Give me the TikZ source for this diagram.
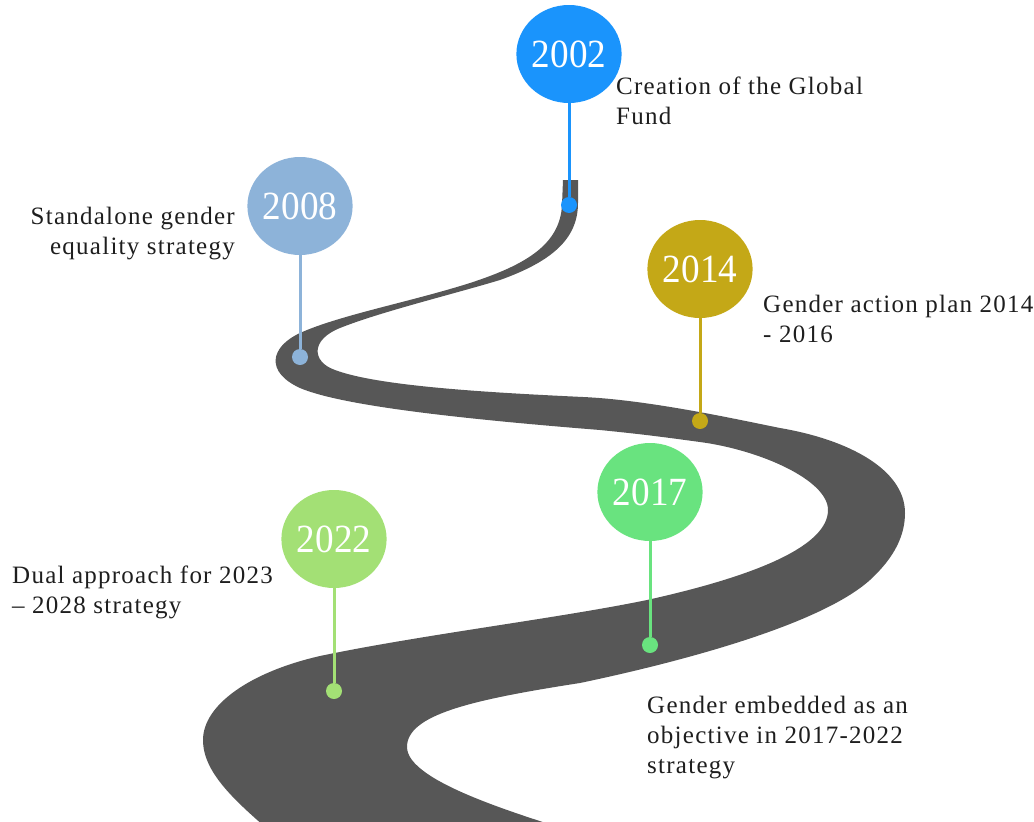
\documentclass[tikz,border=0pt]{standalone}
\usepackage{fontspec}
\usepackage{graphicx}
\setmainfont{Liberation Serif}
\newfontfamily\labelfont[LetterSpace=5]{Liberation Serif}
\usetikzlibrary{shapes.geometric}
\definecolor{road}{HTML}{575757}
\definecolor{c2002}{HTML}{1A94FC}
\definecolor{c2008}{HTML}{8DB3D9}
\definecolor{c2014}{HTML}{C4A817}
\definecolor{c2017}{HTML}{69E37F}
\definecolor{c2022}{HTML}{A3E075}
\definecolor{ink}{HTML}{1E1E1E}
\newcommand\yr[1]{\scalebox{0.93}[1]{#1}}
\begin{document}
\begin{tikzpicture}[x=1pt,y=-1pt,
  yearbubble/.style={ellipse, fill=#1, minimum width=94pt, minimum height=98pt, inner sep=0pt, text=white, font=\fontsize{40}{40}\selectfont},
  pindot/.style={circle, fill=#1, minimum size=16pt, inner sep=0pt},
  stem/.style={draw=#1, line width=3pt},
  desc/.style={font=\labelfont\fontsize{25}{30}\selectfont, text=ink, inner sep=0pt}]
\useasboundingbox (0,0) rectangle (1034,822);
\clip (0,0) rectangle (1034,822);
% road
\fill[road] (563,180) -- (562,205)
  .. controls (560,245) and (525,265) .. (470,283)
  .. controls (410,302) and (340,315) .. (300,333)
  .. controls (270,347) and (265,372) .. (300,388)
  .. controls (340,405) and (450,418) .. (600,430)
  .. controls (650,435) and (670,438) .. (700,442)
  .. controls (760,450) and (828,480) .. (828,510)
  .. controls (828,545) and (760,575) .. (647,600)
  .. controls (560,618) and (420,635) .. (320,656)
  .. controls (250,672) and (203,705) .. (203,740)
  .. controls (203,775) and (240,805) .. (280,840)
  -- (600,840)
  .. controls (520,815) and (407,782) .. (407,747)
  .. controls (407,715) and (470,700) .. (580,683)
  .. controls (680,662) and (820,625) .. (870,580)
  .. controls (895,557) and (905,535) .. (905,513)
  .. controls (905,470) and (850,440) .. (780,428)
  .. controls (740,420) and (650,400) .. (583,397)
  .. controls (500,393) and (380,387) .. (335,370)
  .. controls (312,362) and (310,340) .. (340,328)
  .. controls (380,312) and (450,295) .. (500,280)
  .. controls (550,262) and (578,240) .. (578,203)
  -- (578,180) -- cycle;
% year bubbles
\node[yearbubble=c2002] (y2002) at (569,54) {\yr{2002}};
\node[yearbubble=c2008] (y2008) at (300,206) {\yr{2008}};
\node[yearbubble=c2014] (y2014) at (700,269) {\yr{2014}};
\node[yearbubble=c2017] (y2017) at (650,492) {\yr{2017}};
\node[yearbubble=c2022] (y2022) at (334,539) {\yr{2022}};
% dots
\node[pindot=c2002] (d2002) at (569,205) {};
\node[pindot=c2008] (d2008) at (300,357) {};
\node[pindot=c2014] (d2014) at (700,421) {};
\node[pindot=c2017] (d2017) at (650,645) {};
\node[pindot=c2022] (d2022) at (334,691) {};
% stems
\draw[stem=c2002] (y2002.south) -- (d2002);
\draw[stem=c2008] (y2008.south) -- (d2008);
\draw[stem=c2014] (y2014.south) -- (d2014);
\draw[stem=c2017] (y2017.south) -- (d2017);
\draw[stem=c2022] (y2022.south) -- (d2022);
% labels (base anchor = baseline of last line)
\node[desc, anchor=base west, align=left] (t2002) at (616,124) {Creation of the Global\\Fund};
\node[desc, anchor=base east, align=right] (t2008) at (235,254) {Standalone gender\\equality strategy};
\node[desc, anchor=base west, align=left] (t2014) at (763,342) {Gender action plan 2014\\- 2016};
\node[desc, anchor=base west, align=left] (t2017) at (647,773) {Gender embedded as an\\objective in 2017-2022\\strategy};
\node[desc, anchor=base west, align=left] (t2022) at (12,613) {Dual approach for 2023\\– 2028 strategy};
\end{tikzpicture}
\end{document}
